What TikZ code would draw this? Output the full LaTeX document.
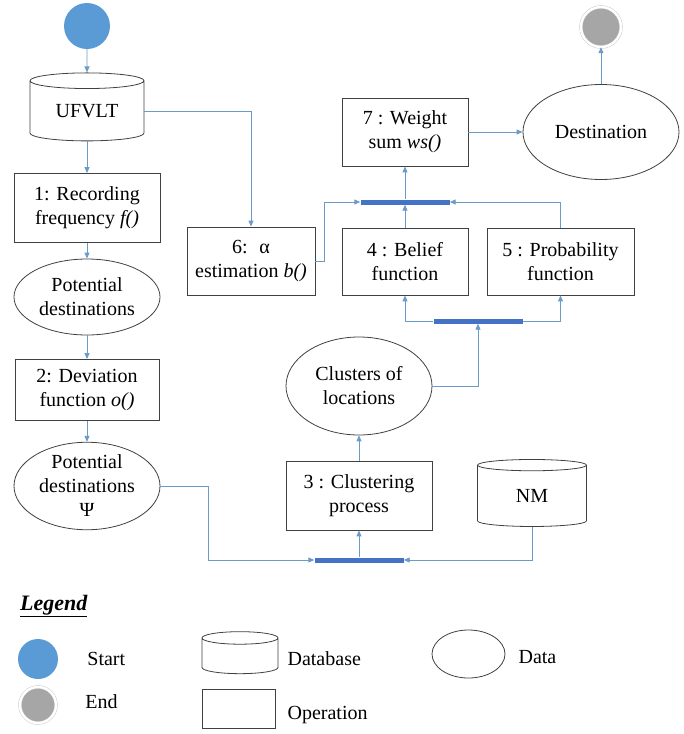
\documentclass[tikz,border=0pt]{standalone}
\usepackage{fontspec}
\setmainfont{Liberation Serif}
\usepackage{tikz}
\usetikzlibrary{arrows.meta,shapes,positioning}
\definecolor{lineblue}{HTML}{6B9BC7}
\definecolor{barblue}{HTML}{4472C4}
\definecolor{startblue}{HTML}{5B9BD5}
\definecolor{endgray}{HTML}{A6A6A6}
\tikzset{
  txt/.style={font=\fontsize{20}{24}\selectfont, align=center, inner sep=0pt},
  opbox/.style={txt, rectangle, draw=black!75, line width=0.8pt},
  databox/.style={txt, ellipse, draw=black!75, line width=0.8pt},
  dbase/.style={txt, cylinder, shape border rotate=90, aspect=0.25, draw=black!75, line width=0.8pt},
  startdot/.style={circle, fill=startblue, inner sep=0pt},
  enddot/.style={circle, fill=endgray, draw=black!25, double=white, double distance=2.5pt, inner sep=0pt},
  bar/.style={rectangle, fill=barblue, minimum width=89pt, minimum height=5pt, inner sep=0pt},
  link/.style={draw=lineblue, line width=0.9pt, -{Triangle[length=6pt,width=5pt]}},
}
\begin{document}
\begin{tikzpicture}[x=1pt,y=-1pt]
\useasboundingbox (0,0) rectangle (684,734);
% left column
\node[startdot, minimum size=46pt] (start) at (87,26) {};
\node[dbase, minimum width=114pt, minimum height=68pt] (ufvlt) at (87,111) {UFVLT};
\node[opbox, minimum width=146pt, minimum height=69pt] (op1) at (87,208) {1: Recording\\frequency \emph{f()}};
\node[databox, minimum width=146pt, minimum height=76pt] (pd1) at (87,297) {Potential\\destinations};
\node[opbox, minimum width=144pt, minimum height=61pt] (op2) at (87,390) {2: Deviation\\function \emph{o()}};
\node[databox, minimum width=146pt, minimum height=86pt] (pd2) at (87,486) {Potential\\destinations\\Ψ};
% middle and right
\node[bar] (bar1) at (359,560) {};
\node[opbox, minimum width=146pt, minimum height=69pt] (op3) at (359,495.5) {3 : Clustering\\process};
\node[dbase, aspect=0.35, minimum width=109pt, minimum height=67pt] (nm) at (532,496) {NM};
\node[databox, minimum width=146pt, minimum height=98pt] (clus) at (359,386) {Clusters of\\locations};
\node[bar] (bar2) at (478,321) {};
\node[opbox, minimum width=128pt, minimum height=68pt] (op6) at (251,261) {6: \ α\\estimation \emph{b()}};
\node[opbox, minimum width=126pt, minimum height=67pt] (op4) at (405,261.5) {4 : Belief\\function};
\node[opbox, minimum width=147pt, minimum height=67pt] (op5) at (560.5,261.5) {5 : Probability\\function};
\node[bar] (bar3) at (405,202) {};
\node[opbox, minimum width=126pt, minimum height=68pt] (op7) at (405,132) {7 : Weight\\sum \emph{ws()}};
\node[databox, minimum width=156pt, minimum height=95pt] (dest) at (601,132) {Destination};
\node[enddot, minimum size=40pt] (end) at (601,27) {};

\draw[link] (start) -- (ufvlt);
\draw[link] (ufvlt) -- (op1);
\draw[link] (ufvlt.east) -| (op6.north);
\draw[link] (op1) -- (pd1);
\draw[link] (pd1) -- (op2);
\draw[link] (op2) -- (pd2);
\draw[link] (pd2.east) -- ++(48,0) |- (bar1.west);
\draw[link] (nm.south) |- (bar1.east);
\draw[link] (bar1) -- (op3);
\draw[link] (op3) -- (clus);
\draw[link] (clus.east) -| (bar2.south);
\draw[link] (bar2.west) -| (op4.south);
\draw[link] (bar2.east) -| (op5.south);
\draw[link] (op4) -- (bar3);
\draw[link] (op5.north) |- (bar3.east);
\draw[link] (op6.east) -- ++(9,0) |- (bar3.west);
\draw[link] (bar3) -- (op7);
\draw[link] (op7) -- (dest);
\draw[link] (dest) -- (end);

% legend
\node[font=\fontsize{22}{26}\selectfont\bfseries\itshape, anchor=west, inner sep=0pt] (lgtitle) at (20,606) {\underline{Legend}};
\node[startdot, minimum size=40pt] (lgstart) at (38,659) {};
\node[txt, right=29pt of lgstart] (lgstarttxt) {Start};
\node[enddot, minimum size=36pt] (lgend) at (38,705) {};
\node[txt, right=29pt of lgend, yshift=3pt] (lgendtxt) {End};
\node[dbase, aspect=0.2, minimum width=76pt, minimum height=42pt] (lgdb) at (240,656) {\phantom{UFVLT}};
\node[txt, right=9pt of lgdb, yshift=-3pt] (lgdbtxt) {Database};
\node[opbox, minimum width=73pt, minimum height=39pt] (lgop) at (238.5,708.5) {};
\node[txt, right=12pt of lgop, yshift=-6pt] (lgoptxt) {Operation};
\node[databox, minimum width=73pt, minimum height=48pt] (lgdata) at (468.5,654) {};
\node[txt, right=13pt of lgdata, yshift=-3pt] (lgdatatxt) {Data};
\end{tikzpicture}
\end{document}
